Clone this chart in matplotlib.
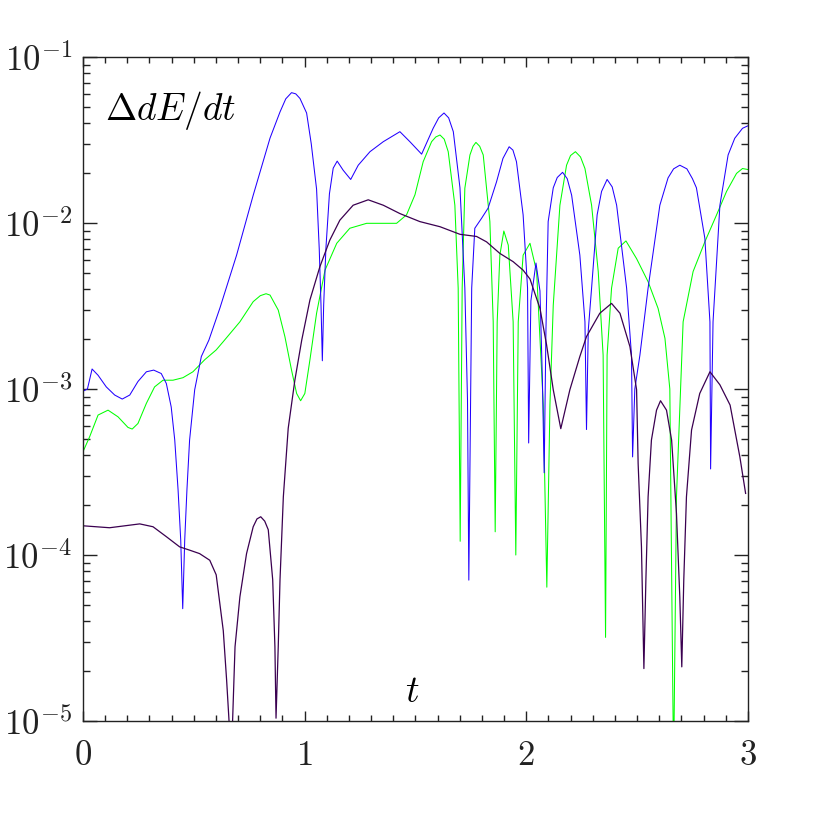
import numpy as np
import matplotlib
matplotlib.use('Agg')
import matplotlib.pyplot as plt
from matplotlib.ticker import MultipleLocator, LogLocator, NullFormatter

plt.rcParams['mathtext.fontset'] = 'cm'

# values (t, |Delta dE/dt|)
blue_t = [0.000, 0.020, 0.041, 0.068, 0.105, 0.143, 0.177, 0.211, 0.248, 0.286,
          0.319, 0.353, 0.376, 0.398, 0.414, 0.429, 0.441, 0.450, 0.459, 0.469,
          0.481, 0.504, 0.534, 0.568, 0.618, 0.693, 0.768, 0.844, 0.889, 0.915,
          0.941, 0.960, 0.979, 1.009, 1.030, 1.054, 1.066, 1.074, 1.080, 1.086,
          1.096, 1.112, 1.129, 1.147, 1.174, 1.208, 1.242, 1.295, 1.355, 1.430,
          1.475, 1.528, 1.580, 1.605, 1.629, 1.650, 1.671, 1.701, 1.723, 1.735,
          1.741, 1.754, 1.768, 1.799, 1.828, 1.866, 1.895, 1.923, 1.940, 1.956,
          1.986, 2.006, 2.011, 2.021, 2.044, 2.062, 2.073, 2.081, 2.089, 2.099,
          2.122, 2.140, 2.164, 2.185, 2.205, 2.242, 2.265, 2.272, 2.280, 2.295,
          2.320, 2.340, 2.365, 2.388, 2.408, 2.453, 2.475, 2.480, 2.490, 2.513,
          2.550, 2.603, 2.640, 2.665, 2.693, 2.725, 2.750, 2.768, 2.806, 2.829,
          2.832, 2.843, 2.874, 2.911, 2.941, 2.976, 3.000]
blue_y = [9.7e-4, 1.0e-3, 1.32e-3, 1.21e-3, 1.03e-3, 9.2e-4, 8.7e-4, 9.2e-4, 1.11e-3, 1.27e-3,
          1.30e-3, 1.24e-3, 1.08e-3, 7.8e-4, 4.93e-4, 2.47e-4, 1.23e-4, 4.75e-5, 1.23e-4, 2.47e-4,
          4.93e-4, 9.9e-4, 1.57e-3, 1.97e-3, 3.08e-3, 6.4e-3, 1.47e-2, 3.25e-2, 4.67e-2, 5.6e-2,
          6.1e-2, 6.0e-2, 5.63e-2, 4.6e-2, 3.0e-2, 1.6e-2, 7.0e-3, 3.2e-3, 1.48e-3, 3.2e-3,
          7.0e-3, 1.5e-2, 2.14e-2, 2.36e-2, 2.08e-2, 1.83e-2, 2.23e-2, 2.69e-2, 3.09e-2, 3.55e-2,
          3.09e-2, 2.6e-2, 3.72e-2, 4.3e-2, 4.6e-2, 4.3e-2, 3.55e-2, 1.63e-2, 4.06e-3, 8.6e-4,
          7.06e-5, 4.06e-3, 9.3e-3, 1.07e-2, 1.23e-2, 1.77e-2, 2.45e-2, 2.88e-2, 2.75e-2, 2.34e-2,
          1.12e-2, 4.06e-3, 4.73e-4, 3.4e-3, 5.74e-3, 3.9e-3, 1.13e-3, 3.13e-4, 2.26e-3, 1.02e-2,
          1.63e-2, 1.88e-2, 2.02e-2, 1.85e-2, 1.47e-2, 6.4e-3, 2.54e-3, 5.7e-4, 2.26e-3, 4.06e-3,
          1.12e-2, 1.55e-2, 1.83e-2, 1.65e-2, 1.28e-2, 4.06e-3, 1.6e-3, 3.9e-4, 1.0e-3, 1.6e-3,
          4.06e-3, 1.28e-2, 1.87e-2, 2.12e-2, 2.23e-2, 2.12e-2, 1.85e-2, 1.63e-2, 8.1e-3, 2.54e-3,
          3.3e-4, 2.54e-3, 1.28e-2, 2.57e-2, 3.24e-2, 3.72e-2, 3.85e-2]

green_t = [0.000, 0.030, 0.068, 0.113, 0.158, 0.203, 0.222, 0.248, 0.286, 0.323,
           0.361, 0.406, 0.451, 0.496, 0.549, 0.601, 0.633, 0.708, 0.768, 0.800,
           0.826, 0.844, 0.881, 0.911, 0.941, 0.964, 0.982, 1.001, 1.024, 1.054,
           1.092, 1.145, 1.204, 1.280, 1.355, 1.415, 1.460, 1.498, 1.535, 1.573,
           1.592, 1.611, 1.630, 1.648, 1.678, 1.693, 1.702, 1.711, 1.723, 1.746,
           1.760, 1.773, 1.790, 1.806, 1.836, 1.851, 1.860, 1.869, 1.881, 1.899,
           1.919, 1.941, 1.953, 1.964, 1.986, 2.017, 2.047, 2.077, 2.093, 2.107,
           2.122, 2.152, 2.182, 2.200, 2.222, 2.245, 2.265, 2.295, 2.325, 2.347,
           2.358, 2.365, 2.385, 2.415, 2.450, 2.498, 2.550, 2.595, 2.626, 2.648,
           2.665, 2.678, 2.708, 2.753, 2.806, 2.859, 2.904, 2.949, 2.976, 3.000]
green_y = [4.19e-4, 5.16e-4, 6.97e-4, 7.46e-4, 6.8e-4, 5.87e-4, 5.74e-4, 6.2e-4, 8.2e-4, 1.03e-3,
           1.13e-3, 1.13e-3, 1.17e-3, 1.27e-3, 1.5e-3, 1.72e-3, 1.93e-3, 2.54e-3, 3.36e-3, 3.65e-3,
           3.75e-3, 3.68e-3, 2.99e-3, 2.07e-3, 1.3e-3, 9.4e-4, 8.5e-4, 9.4e-4, 1.5e-3, 2.86e-3,
           5.2e-3, 7.55e-3, 9.3e-3, 9.96e-3, 9.96e-3, 9.96e-3, 1.12e-2, 1.48e-2, 2.34e-2, 3.09e-2,
           3.3e-2, 3.39e-2, 3.2e-2, 2.69e-2, 1.28e-2, 4.05e-3, 1.21e-4, 4.05e-3, 1.62e-2, 2.57e-2,
           2.9e-2, 3.06e-2, 2.9e-2, 2.57e-2, 1.02e-2, 2.54e-3, 1.38e-4, 2.54e-3, 6.4e-3, 8.95e-3,
           7.36e-3, 2.54e-3, 1.0e-4, 2.54e-3, 6.4e-3, 7.55e-3, 5.1e-3, 8.0e-4, 6.4e-5, 8.0e-4,
           3.2e-3, 1.28e-2, 2.23e-2, 2.55e-2, 2.69e-2, 2.5e-2, 2.13e-2, 1.28e-2, 5.1e-3, 1.6e-3,
           3.19e-5, 1.6e-3, 4.05e-3, 7.05e-3, 7.8e-3, 6.1e-3, 4.43e-3, 3.06e-3, 2.02e-3, 1.0e-3,
           5.0e-6, 2.24e-4, 2.54e-3, 5.1e-3, 7.7e-3, 1.12e-2, 1.55e-2, 1.99e-2, 2.13e-2, 2.1e-2]

purple_t = [0.000, 0.120, 0.256, 0.316, 0.376, 0.436, 0.481, 0.526, 0.572, 0.601,
            0.633, 0.648, 0.659, 0.667, 0.675, 0.686, 0.708, 0.738, 0.768, 0.785,
            0.802, 0.820, 0.836, 0.856, 0.866, 0.871, 0.881, 0.889, 0.904, 0.926,
            0.956, 0.987, 1.024, 1.069, 1.114, 1.159, 1.219, 1.287, 1.355, 1.430,
            1.520, 1.611, 1.701, 1.776, 1.821, 1.881, 1.941, 1.986, 2.017, 2.062,
            2.092, 2.122, 2.156, 2.197, 2.242, 2.272, 2.332, 2.385, 2.423, 2.468,
            2.498, 2.505, 2.520, 2.531, 2.540, 2.550, 2.565, 2.588, 2.606, 2.633,
            2.656, 2.678, 2.693, 2.702, 2.711, 2.723, 2.746, 2.783, 2.829, 2.874,
            2.920, 2.964, 2.990]
purple_y = [1.5e-4, 1.46e-4, 1.54e-4, 1.48e-4, 1.29e-4, 1.12e-4, 1.07e-4, 1.02e-4, 9.3e-5, 7.6e-5,
            3.5e-5, 1.77e-5, 1.0e-5, 5.0e-6, 1.0e-5, 2.8e-5, 5.6e-5, 1.02e-4, 1.48e-4, 1.65e-4,
            1.7e-4, 1.6e-4, 1.42e-4, 7.1e-5, 2.8e-5, 1.04e-5, 2.8e-5, 7.1e-5, 2.24e-4, 5.8e-4,
            1.13e-3, 1.97e-3, 3.44e-3, 5.46e-3, 7.9e-3, 1.04e-2, 1.28e-2, 1.38e-2, 1.28e-2, 1.14e-2,
            1.02e-2, 9.5e-3, 8.55e-3, 8.3e-3, 7.7e-3, 6.56e-3, 5.85e-3, 5.2e-3, 4.6e-3, 3.06e-3,
            1.84e-3, 9.9e-4, 5.77e-4, 9.9e-4, 1.57e-3, 2.07e-3, 2.86e-3, 3.28e-3, 2.86e-3, 1.8e-3,
            9.9e-4, 3.56e-4, 1.12e-4, 2.07e-5, 7.1e-5, 2.24e-4, 4.93e-4, 7.46e-4, 8.5e-4, 7.46e-4,
            4.93e-4, 1.78e-4, 5.6e-5, 2.12e-5, 7.1e-5, 2.24e-4, 5.66e-4, 9.4e-4, 1.27e-3, 1.06e-3,
            8.0e-4, 3.9e-4, 2.35e-4]

x_ticks = [0, 1, 2, 3]
x_ticklabels = ['$0$', '$1$', '$2$', '$3$']
y_ticks = [1e-5, 1e-4, 1e-3, 1e-2, 1e-1]
y_ticklabels = ['$10^{-5}$', '$10^{-4}$', '$10^{-3}$', '$10^{-2}$', '$10^{-1}$']

fig = plt.figure(figsize=(8.3, 8.3), dpi=100)
ax = fig.add_axes([0.1, 0.1313, 0.801, 0.8])

ax.plot(green_t, green_y, color='#00ff00', lw=0.75)
ax.plot(blue_t, blue_y, color='#2200ff', lw=0.75)
ax.plot(purple_t, purple_y, color='#3a0050', lw=0.9)

ax.set_yscale('log')
ax.set_xlim(0, 3)
ax.set_ylim(1e-5, 1e-1)

ax.set_xticks(x_ticks)
ax.set_xticklabels(x_ticklabels)
ax.xaxis.set_minor_locator(MultipleLocator(0.1))
ax.set_yticks(y_ticks)
ax.set_yticklabels(y_ticklabels)
ax.yaxis.set_minor_locator(LogLocator(base=10, subs=np.arange(2, 10)))
ax.yaxis.set_minor_formatter(NullFormatter())

ax.tick_params(which='both', direction='in', top=True, right=True, width=1, colors='#222222')
ax.tick_params(axis='x', which='major', length=7, pad=12, labelsize=25)
ax.tick_params(axis='x', which='minor', length=4.5)
ax.tick_params(axis='y', which='major', length=10, pad=8, labelsize=25)
ax.tick_params(axis='y', which='minor', length=5)
for sp in ax.spines.values():
    sp.set_linewidth(1)
    sp.set_color('#222222')

ax.text(0.033, 0.92, r'$\Delta dE/dt$', transform=ax.transAxes, fontsize=27,
        ha='left', va='center')
ax.text(0.495, 0.044, r'$t$', transform=ax.transAxes, fontsize=27,
        ha='center', va='center')

fig.savefig('out.png', dpi=100)
